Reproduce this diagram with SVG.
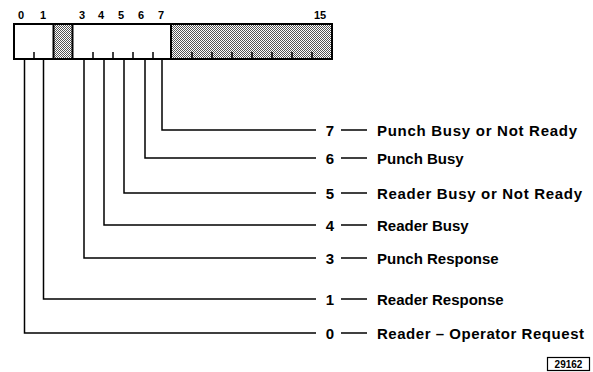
<svg xmlns="http://www.w3.org/2000/svg" width="593" height="372" viewBox="0 0 593 372">
<style>
.bit{font-family:"Liberation Sans",Arial,sans-serif;font-weight:bold;font-size:11px;text-anchor:middle;fill:#000}
.num{font-family:"Liberation Sans",Arial,sans-serif;font-weight:bold;font-size:15px;text-anchor:middle;fill:#000}
.lbl{font-family:"Liberation Sans",Arial,sans-serif;font-weight:bold;font-size:15px;fill:#000}
.ln{stroke:#000;stroke-width:1.5;fill:none}
.box{stroke:#000;stroke-width:2;fill:none}
.tick{stroke:#000;stroke-width:1.5}
</style>
<defs>
<pattern id="stip" patternUnits="userSpaceOnUse" width="2" height="2">
<rect width="2" height="2" fill="#fff"/>
<rect width="1" height="1" fill="#555"/>
<rect x="1" y="1" width="1" height="1" fill="#555"/>
</pattern>
</defs>
<g id="register">
<rect x="53.5" y="24" width="19" height="35" fill="url(#stip)"/>
<rect x="171" y="24" width="161" height="35" fill="url(#stip)"/>
<rect class="box" x="14" y="24" width="318" height="35"/>
<line class="box" x1="53.5" y1="24" x2="53.5" y2="59"/>
<line class="box" x1="72.5" y1="24" x2="72.5" y2="59"/>
<line class="box" x1="171" y1="24" x2="171" y2="59"/>
<g class="tick">
<line x1="34" y1="52" x2="34" y2="59"/>
<line x1="93" y1="52" x2="93" y2="59"/>
<line x1="113" y1="52" x2="113" y2="59"/>
<line x1="133" y1="52" x2="133" y2="59"/>
<line x1="153" y1="52" x2="153" y2="59"/>
<line x1="192" y1="52" x2="192" y2="59"/>
<line x1="212" y1="52" x2="212" y2="59"/>
<line x1="232" y1="52" x2="232" y2="59"/>
<line x1="252" y1="52" x2="252" y2="59"/>
<line x1="272" y1="52" x2="272" y2="59"/>
<line x1="292" y1="52" x2="292" y2="59"/>
<line x1="312" y1="52" x2="312" y2="59"/>
</g>
<text class="bit" x="21" y="19">0</text>
<text class="bit" x="43" y="19">1</text>
<text class="bit" x="82" y="19">3</text>
<text class="bit" x="101" y="19">4</text>
<text class="bit" x="121" y="19">5</text>
<text class="bit" x="141" y="19">6</text>
<text class="bit" x="161" y="19">7</text>
<text class="bit" x="320" y="19">15</text>
</g>
<g id="connectors">
<polyline class="ln" points="162,59 162,130 316,130"/>
<polyline class="ln" points="145,59 145,158 316,158"/>
<polyline class="ln" points="124,59 124,193 316,193"/>
<polyline class="ln" points="104,59 104,225 316,225"/>
<polyline class="ln" points="84,59 84,258 316,258"/>
<polyline class="ln" points="43.5,59 43.5,299 316,299"/>
<polyline class="ln" points="24.5,59 24.5,333 316,333"/>
</g>
<g id="bit7">
<text class="num" x="330" y="135.5">7</text>
<line class="ln" x1="341" y1="130" x2="367" y2="130"/>
<text class="lbl" x="377" y="135.5" textLength="200" lengthAdjust="spacing">Punch Busy or Not Ready</text>
</g>
<g id="bit6">
<text class="num" x="330" y="163.5">6</text>
<line class="ln" x1="341" y1="158" x2="367" y2="158"/>
<text class="lbl" x="377" y="163.5">Punch Busy</text>
</g>
<g id="bit5">
<text class="num" x="330" y="198.5">5</text>
<line class="ln" x1="341" y1="193" x2="367" y2="193"/>
<text class="lbl" x="377" y="198.5" textLength="205" lengthAdjust="spacing">Reader Busy or Not Ready</text>
</g>
<g id="bit4">
<text class="num" x="330" y="230.5">4</text>
<line class="ln" x1="341" y1="225" x2="367" y2="225"/>
<text class="lbl" x="377" y="230.5">Reader Busy</text>
</g>
<g id="bit3">
<text class="num" x="330" y="263.5">3</text>
<line class="ln" x1="341" y1="258" x2="367" y2="258"/>
<text class="lbl" x="377" y="263.5">Punch Response</text>
</g>
<g id="bit1">
<text class="num" x="330" y="304.5">1</text>
<line class="ln" x1="341" y1="299" x2="367" y2="299"/>
<text class="lbl" x="377" y="304.5">Reader Response</text>
</g>
<g id="bit0">
<text class="num" x="330" y="338.5">0</text>
<line class="ln" x1="341" y1="333" x2="367" y2="333"/>
<text class="lbl" x="377" y="338.5" textLength="207" lengthAdjust="spacing">Reader – Operator Request</text>
</g>
<g id="figno">
<rect x="547.5" y="357.5" width="42" height="13" fill="none" stroke="#000" stroke-width="1.2"/>
<text x="568.5" y="368" font-family="'Liberation Sans',Arial,sans-serif" font-weight="bold" font-size="10" text-anchor="middle">29162</text>
</g>
</svg>
